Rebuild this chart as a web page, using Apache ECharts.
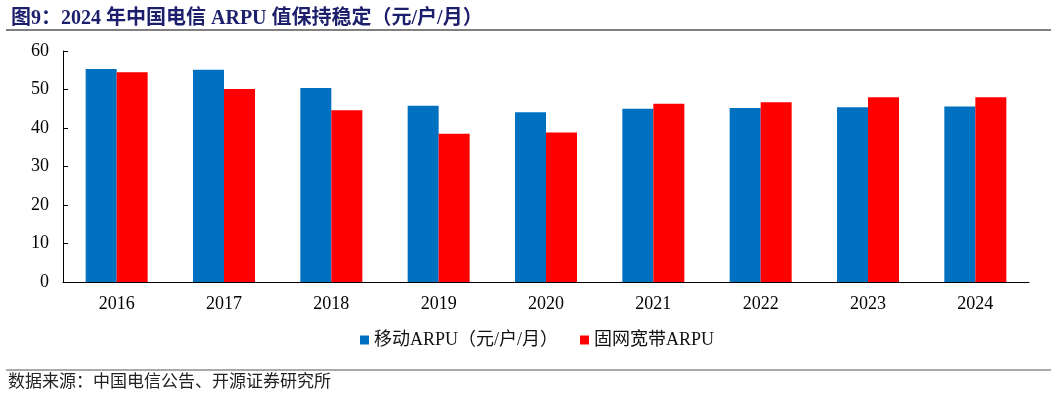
<!DOCTYPE html>
<html><head><meta charset="utf-8">
<script src="https://cdn.jsdelivr.net/npm/echarts@6/dist/echarts.min.js"></script>
<style>html,body{margin:0;padding:0;background:#fff}#c{width:1057px;height:397px}</style>
</head><body><div id="c"></div>
<script>
const categories = ['2016','2017','2018','2019','2020','2021','2022','2023','2024'];
const mobileArpu = [55.3, 55.1, 50.4, 45.8, 44.1, 45.0, 45.2, 45.4, 45.6];
const broadbandArpu = [54.5, 50.1, 44.6, 38.5, 38.8, 46.3, 46.7, 48.0, 48.0];
const seriesNames = ['移动ARPU（元/户/月）', '固网宽带ARPU'];
const titleText = '图9：2024 年中国电信 ARPU 值保持稳定（元/户/月）';
const sourceText = '数据来源：中国电信公告、开源证券研究所';

const serif = "'Liberation Serif','Times New Roman','Noto Sans CJK SC',serif";
const chart = echarts.init(document.getElementById('c'));
chart.setOption({
  animation: false,
  title: {
    text: titleText, left: 6, top: 4,
    textStyle: {fontFamily: serif, fontWeight: 'bold', fontSize: 20, color: '#1c1f6b'}
  },
  graphic: [
    {type: 'line', shape: {x1: 6, y1: 30, x2: 1051, y2: 30}, style: {stroke: '#808080', lineWidth: 2}},
    {type: 'line', shape: {x1: 6, y1: 370, x2: 1051, y2: 370}, style: {stroke: '#555', lineWidth: 1}},
    {type: 'text', left: 8, top: 372, style: {text: sourceText, font: "17px 'Noto Sans CJK SC'", fill: '#222'}}
  ],
  legend: {
    data: seriesNames, bottom: 43, left: 355, itemGap: 22,
    itemWidth: 9, itemHeight: 9, icon: 'rect',
    textStyle: {fontFamily: serif, fontSize: 18, color: '#111'}
  },
  grid: {left: 63, right: 28, top: 51, bottom: 115, containLabel: false},
  xAxis: {
    type: 'category', data: categories,
    axisLine: {lineStyle: {color: '#000', width: 1}},
    axisTick: {inside: true, length: 5, lineStyle: {color: '#000'}},
    axisLabel: {fontFamily: serif, fontSize: 18, color: '#000', margin: 13}
  },
  yAxis: {
    type: 'value', min: 0, max: 60, interval: 10,
    splitLine: {show: false},
    axisLine: {show: true, lineStyle: {color: '#000', width: 1}},
    axisTick: {show: true, inside: true, length: 5, lineStyle: {color: '#000'}},
    axisLabel: {fontFamily: serif, fontSize: 18, color: '#000', margin: 14}
  },
  series: [
    {name: seriesNames[0], type: 'bar', data: mobileArpu, barWidth: 31, barGap: '0%', itemStyle: {color: '#0070C0'}},
    {name: seriesNames[1], type: 'bar', data: broadbandArpu, barWidth: 31, barGap: '0%', itemStyle: {color: '#FF0000'}}
  ]
});
</script></body></html>
